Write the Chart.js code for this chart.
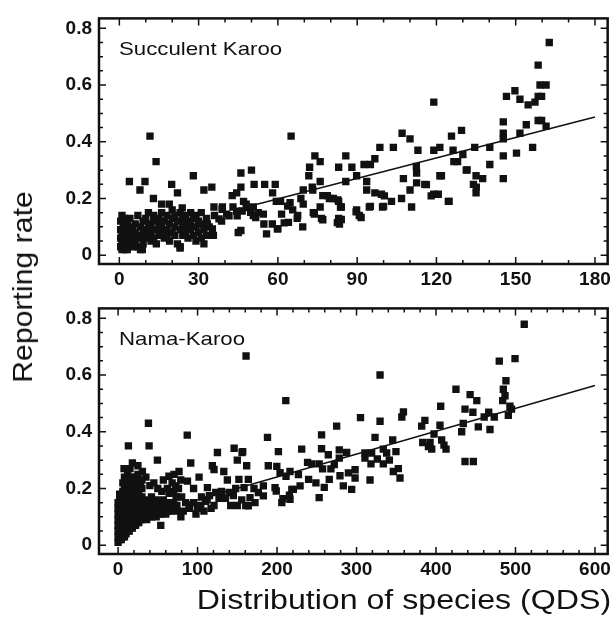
<!DOCTYPE html>
<html>
<head>
<meta charset="utf-8">
<script src="https://cdn.jsdelivr.net/npm/chart.js@4.4.1/dist/chart.umd.min.js"></script>
<style>
  body { margin: 0; background: #fff; }
  #wrap { position: relative; width: 615px; height: 625px; overflow: hidden; }
  canvas { position: absolute; left: 0; }
  .title { position: absolute; font-family: "Liberation Sans", Arial, sans-serif; color: #111; white-space: nowrap; line-height: 1; }
</style>
</head>
<body>
<div id="wrap">
  <canvas id="topChart" width="615" height="300" style="top:0"></canvas>
  <canvas id="bottomChart" width="615" height="300" style="top:290px"></canvas>
  <div class="title" id="ytitle" style="left:23px; top:287px; font-size:28px; transform: translate(-50%,-50%) rotate(-90deg) scale(1.08,1);">Reporting rate</div>
  <div class="title" id="xtitle" style="left:404px; top:600px; font-size:27px; transform: translate(-50%,-50%) scale(1.19,1);">Distribution of species (QDS)</div>
</div>
<script>
// tick labels
const yTicks = [0, 0.2, 0.4, 0.6, 0.8];
const skXTicks = [0, 30, 60, 90, 120, 150, 180];
const nkXTicks = [0, 100, 200, 300, 400, 500, 600];

// Succulent Karoo: [species distribution (QDS), reporting rate]
const skPoints = [
  [0.5,0.03],[0.5,0.06],[0.5,0.09],[0.5,0.12],[1,0.02],[1,0.05],[1,0.08],[1,0.14],[1.5,0.04],[1.5,0.11],
  [2,0.02],[2,0.07],[2,0.10],[2,0.13],[2.5,0.05],[2.5,0.03],[3,0.08],[3,0.12],[3,0.02],[3,0.06],
  [4,0.04],[4,0.10],[4,0.07],[4,0.13],[5,0.03],[5,0.09],[5,0.06],[6,0.05],[6,0.11],[6,0.08],
  [7,0.03],[7,0.14],[7,0.07],[8,0.10],[8,0.06],[8,0.02],[9,0.12],[9,0.08],[9,0.04],[10,0.09],
  [10,0.13],[10,0.06],[11,0.07],[11,0.11],[11,0.15],[12,0.05],[12,0.10],[12,0.08],[13,0.12],[13,0.06],
  [13,0.14],[14,0.09],[14,0.04],[15,0.11],[15,0.07],[15,0.13],[16,0.08],[16,0.10],[16,0.15],[17,0.06],
  [17,0.12],[18,0.09],[18,0.14],[18,0.07],[19,0.11],[19,0.05],[20,0.13],[20,0.08],[20,0.16],[21,0.10],
  [21,0.07],[21,0.14],[22,0.04],[22,0.12],[23,0.09],[23,0.15],[23,0.03],[24,0.11],[24,0.07],[24,0.13],
  [25,0.08],[25,0.14],[25,0.10],[26,0.12],[26,0.06],[27,0.09],[27,0.15],[27,0.11],[28,0.07],[28,0.13],
  [29,0.10],[29,0.05],[29,0.14],[30,0.08],[30,0.12],[31,0.06],[31,0.11],[31,0.15],[32,0.04],[32,0.09],
  [33,0.07],[33,0.13],[34,0.10],
  [11.6,0.42],[13.9,0.33],[3.8,0.26],[9.7,0.26],[7.8,0.23],[19.8,0.25],[22,0.22],[28,0.28],[12.9,0.20],[16,0.18],
  [18.9,0.18],[32,0.23],[35,0.24],[23.8,0.167],[35.8,0.17],[36,0.14],[39,0.17],[40.6,0.145],[43,0.17],[44.4,0.155],
  [46,0.087],[35.6,0.07],[38.7,0.12],[48,0.18],[50.7,0.14],[52.6,0.15],[54.5,0.145],[55.7,0.075],[60,0.093],[64,0.116],
  [61.4,0.145],[45,0.08],[23,0.025],[8.7,0.02],[42.7,0.21],
  [38.9,0.162],[41.5,0.139],[44.6,0.139],[46.5,0.156],[48.4,0.168],[49.7,0.151],[51.6,0.133],[54.7,0.11],[57.9,0.11],[59.8,0.093],
  [37.7,0.128],[35.2,0.093],[33.3,0.11],
  [46,0.29],[50,0.30],[51,0.25],[55,0.25],[59,0.25],[58,0.22],[44.4,0.22],[46,0.24],[47,0.19],[50.7,0.17],
  [61,0.19],[64.6,0.185],[65,0.42],[72,0.31],[71.7,0.28],[74,0.35],[76,0.33],[76,0.26],[73,0.24],[69.6,0.23],
  [68.7,0.20],[65.6,0.16],[67.3,0.13],[69.6,0.18],[73.4,0.15],[76,0.17],[76.5,0.13],[78.7,0.21],[81,0.20],[83,0.19],
  [83.7,0.17],[83,0.13],[82.5,0.115],[83,0.31],[85.7,0.35],[88,0.31],[85.7,0.26],[89.8,0.28],[89.8,0.16],[90.8,0.14],
  [92.6,0.32],[95,0.32],[93.6,0.26],[93.6,0.23],[96.7,0.34],[98.6,0.38],[96.7,0.22],[99.2,0.215],[94.6,0.17],[99.6,0.17],
  [103,0.19],[103.7,0.38],[107,0.43],[110,0.41],[107.5,0.27],[106.8,0.20],[110.6,0.17],[113,0.37],[112.5,0.29],[112.5,0.255],
  [110,0.23],[115.6,0.25],[119,0.37],[121.3,0.38],[119,0.54],[121.3,0.28],[119,0.215],[120.7,0.215],[124.5,0.19],[126.3,0.37],
  [125.7,0.42],[129.5,0.44],[128,0.33],[130,0.355],[131.3,0.30],[134.5,0.38],[135,0.28],[134,0.25],[135,0.22],[137.5,0.27],
  [140.2,0.38],[140.2,0.32],[145.3,0.47],[145.3,0.43],[145.3,0.41],[145.3,0.35],[145.3,0.27],[146.5,0.56],[149.7,0.58],[151.6,0.55],
  [154.7,0.53],[157.3,0.54],[158.5,0.56],[159.8,0.56],[158.5,0.67],[159.2,0.60],[161.5,0.60],[162.7,0.75],[150.3,0.36],[151.6,0.43],
  [154,0.46],[156.4,0.38],[158.5,0.475],[159.8,0.475],[161.5,0.455],
  [59.4,0.19],[63.7,0.173],[67.5,0.14],[62.4,0.114],[69.4,0.10],[73.2,0.23],[77,0.21],[79.5,0.20],[84,0.126],[83.3,0.11],
  [89.6,0.153],[91.5,0.133],[95,0.172],[100,0.172],[100.3,0.209],[112.4,0.313],[116.2,0.249],[118,0.209],[77,0.125],[73.8,0.145],
  [84,0.17],[82.7,0.195],[126.6,0.33],[131.6,0.301],[121.9,0.28],[124.8,0.19],[135.1,0.24]
];
const skFitX = [51, 180];
const skFitY = [0.177, 0.487];

// Nama-Karoo
const nkPoints = [
  [0,0.01],[0,0.03],[0,0.05],[0,0.07],[0,0.09],[0,0.11],[0,0.13],[0,0.15],
  [2,0.02],[2,0.04],[2,0.06],[2,0.08],[2,0.10],[2,0.12],[2,0.14],[2,0.16],[2,0.18],
  [4,0.02],[4,0.05],[4,0.07],[4,0.09],[4,0.11],[4,0.13],[4,0.15],[4,0.17],
  [6,0.03],[6,0.05],[6,0.08],[6,0.10],[6,0.12],[6,0.14],[6,0.16],[6,0.19],[6,0.22],
  [8,0.03],[8,0.06],[8,0.09],[8,0.11],[8,0.13],[8,0.15],[8,0.18],[8,0.21],[8,0.24],
  [10,0.04],[10,0.07],[10,0.09],[10,0.12],[10,0.14],[10,0.17],[10,0.20],[10,0.23],
  [12,0.05],[12,0.08],[12,0.10],[12,0.13],[12,0.16],[12,0.19],[12,0.22],[12,0.25],
  [14,0.05],[14,0.07],[14,0.10],[14,0.12],[14,0.15],[14,0.18],[14,0.21],
  [16,0.06],[16,0.09],[16,0.11],[16,0.14],[16,0.17],[16,0.20],[16,0.24],
  [18,0.06],[18,0.08],[18,0.11],[18,0.13],[18,0.16],[18,0.19],[18,0.22],
  [20,0.07],[20,0.10],[20,0.12],[20,0.15],[20,0.18],[20,0.21],
  [22,0.07],[22,0.09],[22,0.12],[22,0.14],[22,0.17],[22,0.23],
  [24,0.08],[24,0.11],[24,0.13],[24,0.16],[24,0.20],
  [26,0.08],[26,0.10],[26,0.13],[26,0.15],[26,0.18],
  [28,0.09],[28,0.11],[28,0.14],[28,0.16],[28,0.22],
  [30,0.09],[30,0.12],[30,0.14],[30,0.17],[30,0.20],
  [33,0.10],[33,0.12],[33,0.15],[36,0.09],[36,0.11],[36,0.14],[36,0.16],
  [39,0.10],[39,0.13],[39,0.15],[39,0.12],[42,0.10],[42,0.12],[42,0.14],[42,0.17],
  [45,0.11],[45,0.13],[45,0.15],[48,0.10],[48,0.12],[48,0.14],[48,0.16],
  [51,0.11],[51,0.13],[51,0.15],[54,0.11],[54,0.14],[54,0.12],[57,0.12],[57,0.14],[57,0.16],
  [60,0.11],[60,0.13],[60,0.15],[63,0.12],[63,0.14],[66,0.12],[66,0.15],[66,0.13],[70,0.13],[70,0.15],[74,0.14],[74,0.12],
  [82,0.12],[90,0.13],[95,0.15],[98,0.11],[104,0.14],[108,0.12],[112,0.16],[117,0.13],[79,0.10],[73,0.17],
  [70,0.19],[55,0.19],[50,0.2],[40,0.21],[30,0.23],[20,0.24],[25,0.25],
  [38.2,0.43],[87,0.388],[13,0.35],[39,0.35],[49.5,0.30],[18,0.29],[7.5,0.27],[30.6,0.26],[91.4,0.29],[125,0.327],
  [146,0.342],[156,0.327],[150,0.30],[118.6,0.28],[120.7,0.267],[133,0.26],[101.9,0.24],[70.4,0.25],[78.8,0.23],[72.6,0.209],
  [64.2,0.183],[112.4,0.203],[122.9,0.186],[127,0.165],[139.6,0.186],[137.5,0.23],[152,0.232],[158.5,0.203],[150,0.14],[160.6,0.14],
  [141.7,0.14],[120.7,0.14],[89.3,0.14],[53.7,0.07],[5.5,0.18],[64,0.243],[76.7,0.26],[87.3,0.226],
  [95,0.2],[105,0.17],[110,0.155],[115,0.175],[130,0.19],[135,0.165],[145,0.175],[148,0.2],[100,0.13],[85,0.15],
  [80,0.17],[76,0.2],[68,0.22],[62,0.2],[57,0.23],[45,0.22],[35,0.24],[25,0.28],[15,0.27],
  [161,0.667],[329.6,0.60],[211,0.51],[188,0.38],[156.8,0.33],[201.7,0.33],[231,0.339],[256,0.389],[275,0.42],[305,0.45],
  [329.6,0.437],[359,0.47],[357,0.452],[386,0.44],[382,0.42],[323.3,0.38],[345.5,0.371],[383.3,0.362],[390.5,0.348],[256,0.34],
  [264.5,0.319],[278.3,0.336],[287.6,0.327],[278.3,0.307],[310.6,0.325],[319,0.325],[333.7,0.339],[337.9,0.325],[349.6,0.33],[326.2,0.304],
  [310.6,0.307],[318.2,0.287],[341.3,0.3],[333.7,0.287],[352.6,0.27],[346.3,0.26],[354.7,0.237],[298.2,0.266],[298.2,0.237],[289.8,0.255],
  [279.2,0.245],[283.4,0.209],[293.9,0.197],[317,0.23],[272,0.284],[267.8,0.269],[257.3,0.269],[243.8,0.287],[238.4,0.292],[253,0.287],
  [239.7,0.232],[248.9,0.22],[253,0.168],[259.4,0.204],[265.7,0.232],[226.9,0.249],[229,0.209],[218.6,0.197],[215.6,0.176],[207.3,0.164],
  [199,0.191],[199.7,0.278],[189,0.28],[203.8,0.256],[211.3,0.243],[216.3,0.26],[161.8,0.28],[163.9,0.232],[171,0.2],[182.8,0.209],
  [176.5,0.186],[182.8,0.174],[166,0.168],[155.6,0.16],[172.3,0.15],[163.9,0.139],[197.5,0.203],[206,0.15],[216.3,0.162],[220.5,0.197],
  [511,0.779],[479.6,0.649],[499.4,0.658],[425.1,0.55],[442.9,0.531],[451.3,0.51],[488,0.58],[484.7,0.55],[486.8,0.527],[483.9,0.51],
  [493,0.49],[491,0.458],[495,0.48],[405.9,0.49],[436.5,0.48],[446.4,0.469],[466.3,0.469],[473.3,0.452],[460.6,0.452],[434.3,0.429],
  [453.2,0.417],[467.9,0.408],[432.3,0.4],[405,0.423],[397.5,0.392],[392.5,0.362],[394.6,0.339],[407.1,0.371],[410,0.353],[412.6,0.339],
  [436.5,0.295],[447,0.295]
];
const nkFitX = [85, 600];
const nkFitY = [0.148, 0.563];

const tickFont = { family: '"Liberation Sans", Arial, sans-serif', size: 19, weight: 'bold' };

// frame + inward ticks on all four sides, panel label
const frameTicks = {
  id: 'frameTicks',
  afterDatasetsDraw(chart, args, opts) {
    const { ctx, chartArea: a, scales: { x, y } } = chart;
    ctx.save();
    ctx.strokeStyle = '#111';
    ctx.lineWidth = 1.5;
    ctx.beginPath();
    for (let i = 0; i * opts.xMinor <= x.max; i++) {
      const px = x.getPixelForValue(i * opts.xMinor);
      const len = i % opts.xEvery === 0 ? 7 : 4;
      ctx.moveTo(px, a.bottom); ctx.lineTo(px, a.bottom - len);
      ctx.moveTo(px, a.top); ctx.lineTo(px, a.top + len);
    }
    for (let i = 0; i * 0.05 <= y.max; i++) {
      const py = y.getPixelForValue(i * 0.05);
      const len = i % 4 === 0 ? 7 : 4;
      ctx.moveTo(a.left, py); ctx.lineTo(a.left + len, py);
      ctx.moveTo(a.right, py); ctx.lineTo(a.right - len, py);
    }
    ctx.stroke();
    ctx.lineWidth = 2.5;
    ctx.strokeRect(a.left, a.top, a.right - a.left, a.bottom - a.top);

    ctx.fillStyle = '#111';
    ctx.font = '19px "Liberation Sans", Arial, sans-serif';
    ctx.textBaseline = 'alphabetic';
    ctx.translate(a.left + 20, a.top + 37);
    ctx.scale(1.17, 1);
    ctx.fillText(opts.label, 0, 0);
    ctx.restore();
  }
};

function makeChart(id, points, fitX, fitY, xMin, xMax, xTicks, label, xMinor, xEvery) {
  return new Chart(document.getElementById(id), {
    type: 'scatter',
    data: {
      datasets: [{
        data: points.map(p => ({ x: p[0], y: p[1] })),
        backgroundColor: '#111',
        borderWidth: 0,
        pointStyle: 'rect',
        pointRadius: 5.2
      }, {
        type: 'line',
        data: fitX.map((v, i) => ({ x: v, y: fitY[i] })),
        borderColor: '#111',
        borderWidth: 1.5,
        pointRadius: 0,
        fill: false
      }]
    },
    options: {
      responsive: false,
      animation: false,
      events: [],
      layout: { padding: { left: 0, right: 7, top: 15, bottom: 0 } },
      plugins: {
        legend: { display: false },
        tooltip: { enabled: false },
        frameTicks: { label: label, xMinor: xMinor, xEvery: xEvery }
      },
      scales: {
        x: {
          type: 'linear',
          min: xMin,
          max: xMax,
          afterBuildTicks: s => { s.ticks = xTicks.map(v => ({ value: v })); },
          afterFit: s => { s.height = 36; },
          ticks: { font: tickFont, color: '#111', padding: 4, maxRotation: 0, autoSkip: false, callback: v => String(v) },
          grid: { display: false, drawTicks: false },
          border: { display: false }
        },
        y: {
          type: 'linear',
          min: -0.031,
          max: 0.835,
          afterBuildTicks: s => { s.ticks = yTicks.map(v => ({ value: v })); },
          afterFit: s => { s.width = 99; },
          ticks: { font: tickFont, color: '#111', padding: 7, autoSkip: false, callback: v => String(v) },
          grid: { display: false, drawTicks: false },
          border: { display: false }
        }
      }
    },
    plugins: [frameTicks]
  });
}

makeChart('topChart', skPoints, skFitX, skFitY, -7.7, 184.8, skXTicks, 'Succulent Karoo', 10, 3);
makeChart('bottomChart', nkPoints, nkFitX, nkFitY, -24, 616, nkXTicks, 'Nama-Karoo', 20, 5);
</script>
</body>
</html>
